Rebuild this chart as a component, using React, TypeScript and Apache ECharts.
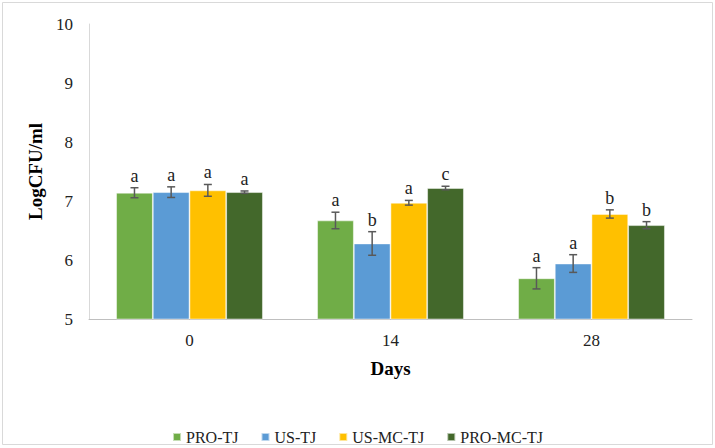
import React, { useEffect, useRef } from "react";
import * as echarts from "echarts";

const categories = ["0", "14", "28"];
const seriesNames = ["PRO-TJ", "US-TJ", "US-MC-TJ", "PRO-MC-TJ"];
const colors = ["#70ad47", "#5b9bd5", "#ffc000", "#43682b"];

const proTJ = [7.14, 6.67, 5.69];
const usTJ = [7.15, 6.28, 5.94];
const usMcTJ = [7.18, 6.97, 6.78];
const proMcTJ = [7.15, 7.22, 6.59];

const proTJErr = [0.085, 0.14, 0.18];
const usTJErr = [0.09, 0.2, 0.15];
const usMcTJErr = [0.1, 0.04, 0.07];
const proMcTJErr = [0.02, 0.03, 0.06];

const proTJLetters = ["a", "a", "a"];
const usTJLetters = ["a", "b", "a"];
const usMcTJLetters = ["a", "a", "b"];
const proMcTJLetters = ["a", "c", "b"];

const allValues = [proTJ, usTJ, usMcTJ, proMcTJ];
const allErrs = [proTJErr, usTJErr, usMcTJErr, proMcTJErr];
const allLetters = [proTJLetters, usTJLetters, usMcTJLetters, proMcTJLetters];

const FONT = "Liberation Serif";
const GAP = 0.27;

export default function App() {
  const ref = useRef<HTMLDivElement>(null);
  useEffect(() => {
    document.body.style.margin = "0";
    const chart = echarts.init(ref.current!, null, { renderer: "svg" });
    const errData: any[] = [];
    const errLetters: string[] = [];
    allValues.forEach((vals, s) => {
      vals.forEach((v, c) => {
        errData.push([c, s, v, allErrs[s][c]]);
        errLetters.push(allLetters[s][c]);
      });
    });
    const barSeries = seriesNames.map((name, i) => ({
      name,
      type: "bar",
      data: allValues[i],
      barGap: "0%",
      barCategoryGap: GAP * 100 + "%",
      itemStyle: { color: colors[i], borderColor: "rgba(255,255,255,0.6)", borderWidth: 0.8 },
      z: 2,
    }));
    chart.setOption({
      animation: false,
      textStyle: { fontFamily: FONT },
      graphic: [
        {
          type: "rect",
          shape: { x: 2.5, y: 2.5, width: 710, height: 442 },
          style: { fill: "none", stroke: "#d9d9d9", lineWidth: 1 },
          silent: true,
        },
      ],
      grid: { left: 89, right: 23, top: 24, bottom: 129 },
      legend: {
        data: seriesNames,
        left: "center",
        top: 424,
        icon: "rect",
        itemWidth: 8,
        itemHeight: 8,
        itemGap: 22,
        textStyle: { fontFamily: FONT, fontSize: 16, color: "#222" },
      },
      xAxis: {
        type: "category",
        data: categories,
        name: "Days",
        nameLocation: "middle",
        nameGap: 40,
        nameTextStyle: { fontFamily: FONT, fontSize: 19, fontWeight: "bold", color: "#000" },
        axisLine: { lineStyle: { color: "#bfbfbf", width: 1 } },
        axisTick: { show: false },
        axisLabel: { fontFamily: FONT, fontSize: 17, color: "#222", margin: 13 },
      },
      yAxis: {
        type: "value",
        min: 5,
        max: 10,
        interval: 1,
        name: "LogCFU/ml",
        nameLocation: "middle",
        nameGap: 41,
        nameTextStyle: { fontFamily: FONT, fontSize: 19, fontWeight: "bold", color: "#000" },
        axisLine: { show: true, lineStyle: { color: "#d9d9d9", width: 1 } },
        axisTick: { show: false },
        splitLine: { show: false },
        axisLabel: { fontFamily: FONT, fontSize: 17, color: "#222", margin: 16 },
      },
      series: [
        ...barSeries,
        {
          type: "custom",
          name: "err",
          z: 5,
          data: errData,
          renderItem: (params: any, api: any) => {
            const c = api.value(0);
            const s = api.value(1);
            const v = api.value(2);
            const e = api.value(3);
            const bandW = api.size([1, 0])[0];
            const barW = (bandW * (1 - GAP)) / 4;
            const cx = api.coord([c, v])[0] + (s - 1.5) * barW;
            const yTop = api.coord([c, v + e])[1];
            const yBot = api.coord([c, v - e])[1];
            const cap = 4;
            const stroke = { stroke: "#595959", lineWidth: 1.5 };
            return {
              type: "group",
              children: [
                { type: "line", shape: { x1: cx, y1: yTop, x2: cx, y2: yBot }, style: stroke },
                { type: "line", shape: { x1: cx - cap, y1: yTop, x2: cx + cap, y2: yTop }, style: stroke },
                { type: "line", shape: { x1: cx - cap, y1: yBot, x2: cx + cap, y2: yBot }, style: stroke },
                {
                  type: "text",
                  x: cx,
                  y: yTop - 3,
                  style: {
                    text: errLetters[params.dataIndex],
                    fontFamily: FONT,
                    fontSize: 18,
                    fill: "#222",
                    align: "center",
                    verticalAlign: "bottom",
                  },
                },
              ],
            };
          },
        },
      ],
    });
    return () => chart.dispose();
  }, []);
  return <div ref={ref} style={{ width: 715, height: 448 }} />;
}
